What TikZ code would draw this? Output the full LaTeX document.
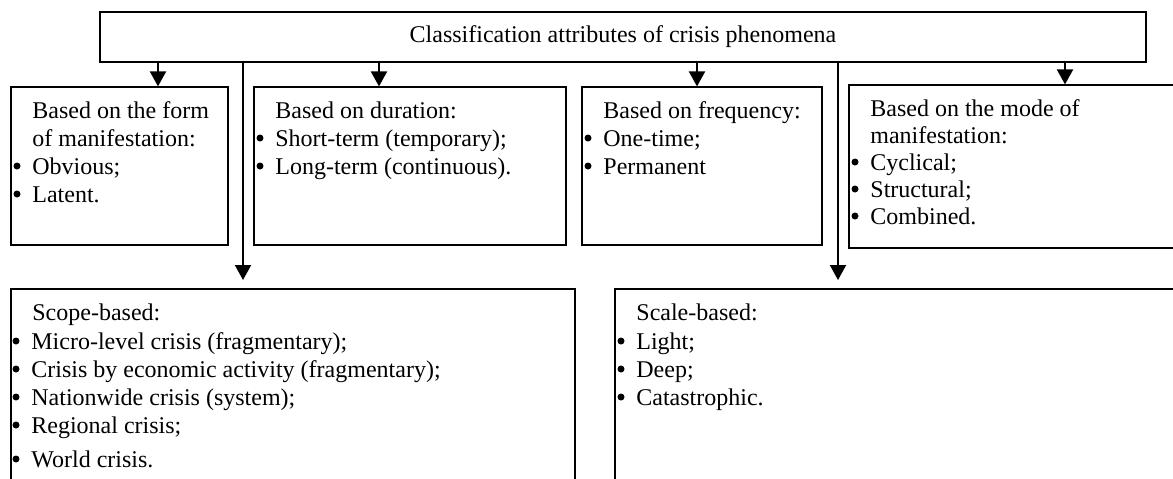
\documentclass[tikz,border=0pt]{standalone}
\usepackage{fontspec}
\setmainfont{Liberation Serif}
\usetikzlibrary{arrows.meta}
% one heading line of a box, set on its baseline
\newcommand\boxhead[4]{\node[txt] (#1) at (#2,#3) {#4};}
% one bulleted line of a box: bullet dot left of the text
\newcommand\boxitem[4]{\node[dot] (#1d) at ({#2-15},{#3-8}) {}; \node[txt] (#1) at (#2,#3) {#4};}
\begin{document}
\begin{tikzpicture}[x=0.5pt,y=-0.5pt,
  font=\fontsize{12}{14}\selectfont,
  box/.style={draw, line width=0.6pt, inner sep=0},
  txt/.style={anchor=base west, inner sep=0},
  dot/.style={circle, fill, inner sep=0, minimum size=3.5pt},
  arr/.style={line width=1pt, -{Triangle[length=7.5pt,width=8pt]}}]
\useasboundingbox (0,0) rectangle (1173,478);
\clip (0,0) rectangle (1173,478);

% root box
\node[box, minimum width=523pt, minimum height=25pt] (top) at (623,37)
  {Classification attributes of crisis phenomena};

% first row of boxes
\node[box, minimum width=108.5pt, minimum height=79pt] (b1) at (119.5,166) {};
\node[box, minimum width=156pt, minimum height=79pt] (b2) at (410,166) {};
\node[box, minimum width=120pt, minimum height=79pt] (b3) at (702,166) {};
\node[box, minimum width=175.5pt, minimum height=81.5pt] (b4) at (1024.5,166.5) {};

% second row of boxes (running past the page edge)
\node[box, minimum width=282pt, minimum height=105.5pt] (b5) at (293,394.5) {};
\node[box, minimum width=292.5pt, minimum height=105.5pt] (b6) at (907.5,394.5) {};

% short arrows into the first row
\coordinate (x1) at (158,0);
\coordinate (x2) at (379,0);
\coordinate (x3) at (697,0);
\coordinate (x4) at (1065,0);
\draw[arr] (top.south -| x1) -- (x1 |- b1.north);
\draw[arr] (top.south -| x2) -- (x2 |- b2.north);
\draw[arr] (top.south -| x3) -- (x3 |- b3.north);
\draw[arr] (top.south -| x4) -- (x4 |- b4.north);

% long arrows towards the second row
\coordinate (e1) at (243,280);
\coordinate (e2) at (838,280);
\draw[arr] (top.south -| e1) -- (e1);
\draw[arr] (top.south -| e2) -- (e2);

% texts of the first row
\boxhead{t1a}{32}{118}{Based on the form}
\boxhead{t1b}{32}{146}{of manifestation:}
\boxitem{t1c}{32}{174}{Obvious;}
\boxitem{t1e}{32}{202}{Latent.}

\boxhead{t2a}{275}{118}{Based on duration:}
\boxitem{t2b}{275}{146}{Short-term (temporary);}
\boxitem{t2c}{275}{174}{Long-term (continuous).}

\boxhead{t3a}{603}{118}{Based on frequency:}
\boxitem{t3b}{603}{146}{One-time;}
\boxitem{t3c}{603}{174}{Permanent}

\boxhead{t4a}{870}{116}{Based on the mode of}
\boxhead{t4b}{870}{143}{manifestation:}
\boxitem{t4c}{870}{170}{Cyclical;}
\boxitem{t4e}{870}{197}{Structural;}
\boxitem{t4f}{870}{224}{Combined.}

% texts of the second row
\boxhead{t5a}{32}{320}{Scope-based:}
\boxitem{t5b}{31}{349}{Micro-level crisis (fragmentary);}
\boxitem{t5c}{31}{377}{Crisis by economic activity (fragmentary);}
\boxitem{t5e}{31}{405}{Nationwide crisis (system);}
\boxitem{t5f}{31}{433}{Regional crisis;}
\boxitem{t5g}{31}{467}{World crisis.}

\boxhead{t6a}{636}{320}{Scale-based:}
\boxitem{t6b}{636}{349}{Light;}
\boxitem{t6c}{636}{377}{Deep;}
\boxitem{t6e}{636}{405}{Catastrophic.}
\end{tikzpicture}
\end{document}
